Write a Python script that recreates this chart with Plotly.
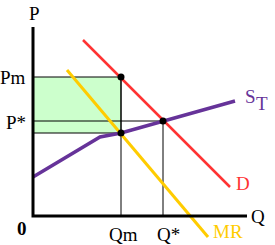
import plotly.graph_objects as go

# Data (quantity, price) in chart units
Q_m, Q_star = 88, 130
P_m, P_star, P_c = 139, 95, 83
Q_max, P_max = 214, 189

demand_q = [50, 197]
demand_p = [176, 29]
mr_q = [34, 175]
mr_p = [146, -21]
supply_q = [0, 67, 88, 130, 202]
supply_p = [39, 79, 83, 95, 115]

RED = "#FF3333"
YEL = "#FFCC00"
PUR = "#663399"
FONT = "Liberation Serif"

fig = go.Figure()

# green rectangle (profit area)
fig.add_trace(go.Scatter(x=[0, Q_m, Q_m, 0, 0], y=[P_c, P_c, P_m, P_m, P_c],
                         fill="toself", fillcolor="#CCFFCC", mode="lines",
                         line=dict(color="black", width=1), hoverinfo="skip"))
# guide lines
fig.add_trace(go.Scatter(x=[0, Q_star, Q_star], y=[P_star, P_star, 0], mode="lines",
                         line=dict(color="black", width=1)))
fig.add_trace(go.Scatter(x=[Q_m, Q_m], y=[P_m, 0], mode="lines",
                         line=dict(color="black", width=1)))
# curves
fig.add_trace(go.Scatter(x=supply_q, y=supply_p, mode="lines", line=dict(color=PUR, width=3.5)))
fig.add_trace(go.Scatter(x=demand_q, y=demand_p, mode="lines", line=dict(color=RED, width=2.5)))
fig.add_trace(go.Scatter(x=mr_q, y=mr_p, mode="lines", line=dict(color=YEL, width=3)))
# axes
fig.add_trace(go.Scatter(x=[0, 0, Q_max], y=[P_max, 0, 0], mode="lines",
                         line=dict(color="black", width=3)))
# dots
fig.add_trace(go.Scatter(x=[Q_m, Q_m, Q_star], y=[P_m, P_c, P_star], mode="markers",
                         marker=dict(color="black", size=7)))

def ann(x, y, text, color="black", xanchor="center", size=19):
    fig.add_annotation(x=x, y=y, text=text, showarrow=False, xanchor=xanchor,
                       yanchor="middle", font=dict(family=FONT, size=size, color=color))

ann(1, 203, "P")
ann(-5, P_m, "Pm", xanchor="right")
ann(-5, P_star - 1, "P*", xanchor="right")
ann(-11, -12, "<b>0</b>")
ann(Q_m + 2, -18, "Qm")
ann(Q_star + 5, -18, "Q*")
ann(225, 0, "Q")
ann(195, -15, "MR", color=YEL)
ann(210, 33, "D", color=RED)
ann(217, 120, "S", color=PUR)
ann(229, 113, "T", color=PUR)

fig.update_layout(
    width=275, height=245, margin=dict(l=0, r=0, t=0, b=0),
    plot_bgcolor="white", paper_bgcolor="white", showlegend=False,
    xaxis=dict(range=[-33, 242], visible=False, fixedrange=True),
    yaxis=dict(range=[-29, 216], visible=False, fixedrange=True),
)

fig.write_html("out.html")
